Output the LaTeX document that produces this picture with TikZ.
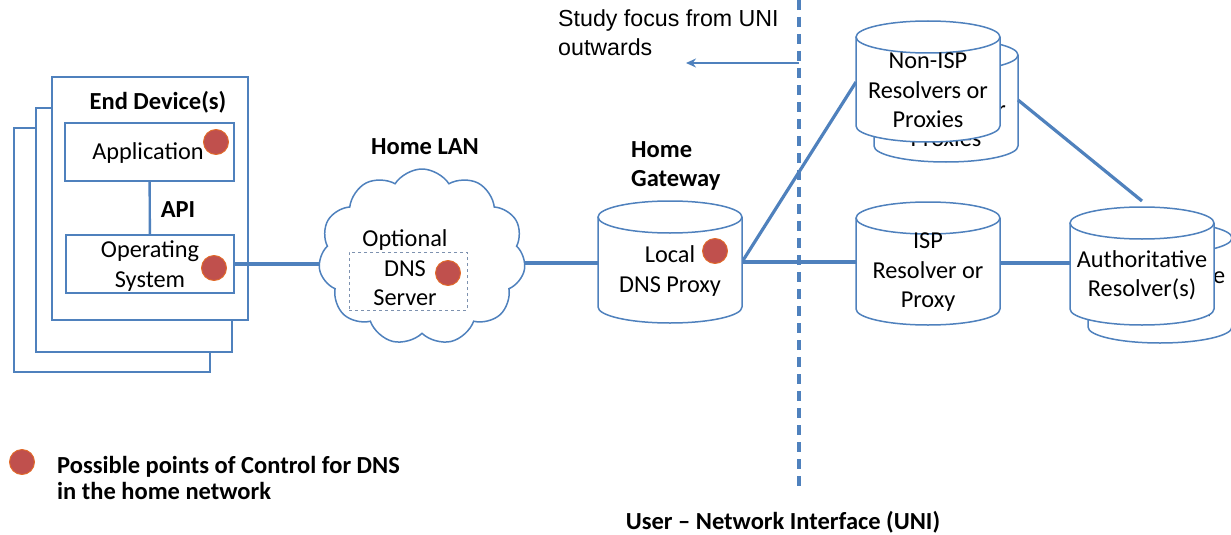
\documentclass[tikz,border=0pt]{standalone}
\usepackage{fontspec}
\setmainfont{Carlito}
\newfontfamily\arialfont{Liberation Sans}
\usetikzlibrary{shapes.symbols,arrows.meta,calc}
\definecolor{lineblue}{RGB}{79,129,189}
\definecolor{dotred}{RGB}{192,80,77}
\definecolor{dotrim}{RGB}{226,106,40}
\definecolor{boxgray}{RGB}{125,145,175}
% cylinder: name, centre x, top y, bottom y, text
\newcommand\dnsdb[5]{%
  \draw[db] (#2-72,#3) -- (#2-72,#4) arc[start angle=180,end angle=360,x radius=72,y radius=16] -- (#2+72,#3);
  \draw[db] (#2,#3) ellipse[x radius=72,y radius=16];
  \node[inner sep=0pt, minimum width=144pt, minimum height={(#3)-(#4)}] (#1) at (#2,{((#3)+(#4))/2}) {};
  \node[txt] (#1-t) at (#2,{((#3)+(#4))/2-9}) {#5};
}
\begin{document}
\begin{tikzpicture}[x=1pt,y=1pt,
    link/.style={draw=lineblue, line width=3.2pt},
    db/.style={draw=lineblue, line width=1.5pt, fill=white},
    box/.style={draw=lineblue, line width=1.8pt, fill=white, inner sep=0pt},
    ctrl/.style={circle, fill=dotred, draw=dotrim, line width=0.9pt, minimum size=25pt, inner sep=0pt},
    txt/.style={font=\fontsize{24.3}{29.5}\selectfont, align=center, inner sep=0pt},
    btxt/.style={font=\bfseries\fontsize{24.5}{29}\selectfont, inner sep=0pt}]
    \useasboundingbox (0,0) rectangle (1231,-535);

    % end devices
    \node[box, minimum width=196pt, minimum height=244pt] (dev3) at (112,-250) {};
    \node[box, minimum width=196pt, minimum height=244pt] (dev2) at (134,-230) {};
    \node[box, minimum width=196pt, minimum height=243pt] (dev1) at (150,-198.5) {};
    \node[btxt] (devlbl) at (158,-102) {End Device(s)};
    \node[box, minimum width=169pt, minimum height=58pt] (app) at (149.5,-152) {};
    \node[txt] (app-t) at (148,-153) {Application};
    \node[box, minimum width=168pt, minimum height=58pt] (os) at (150,-264) {};
    \node[txt] (os-t) at (150,-266) {Operating\\System};
    \draw[lineblue, line width=2.4pt] (app) -- (os);
    \node[btxt] (api) at (178,-210) {API};

    % home lan
    \node[btxt] (lanlbl) at (425,-147) {Home LAN};
    \node[cloud, cloud puffs=11, cloud puff arc=115, cloud ignores aspect, draw=lineblue,
          line width=1.5pt, fill=white, minimum width=207pt, minimum height=176pt] (lan) at (422,-257) {};
    \draw[link] (os.east) -- (os.east -| lan.west);
    \node[draw=boxgray, dashed, line width=0.8pt, minimum width=118pt, minimum height=58pt] (srvbox) at (408,-281) {};
    \node[txt] (srv) at (405,-268) {Optional\\DNS\\Server};

    % UNI line
    \coordinate (unitop) at (799,0);
    \coordinate (unibot) at (799,-490);
    \draw[lineblue, line width=3.2pt, dash pattern=on 10pt off 7pt] (unitop) -- (unibot);
    \coordinate (focus) at (799,-63);
    \coordinate (focusend) at (686,-63);
    \draw[lineblue, line width=2.8pt, -{Stealth[length=10pt,width=9pt]}] (focus) -- (focusend);
    \node[anchor=west, align=left, inner sep=0pt, font=\arialfont\fontsize{23.2}{29}\selectfont] (study) at (558,-33)
        {Study focus from UNI\\outwards};

    % gateway and resolvers
    \node[btxt, align=left, anchor=west] (gwlbl) at (631,-166) {Home\\Gateway};
    \begin{scope}
        \clip (1000,-150) rectangle (1231,-360);
        \dnsdb{authb}{1160}{-238}{-327}{Authoritative\\Resolver(s)}
    \end{scope}
    \dnsdb{nonispb}{946}{-55}{-146}{Non-ISP\\Resolvers or\\Proxies}
    \draw[link] (lan.east |- 0,-263) -- (598,-263);
    \draw[link] (742,-262) -- (856,-262);
    \draw[link] (1000,-263) -- (1070,-263);
    \draw[link] (742,-262) -- (856,-82);
    \draw[link] (1018,-100) -- (1142,-201);
    \dnsdb{nonisp}{928}{-37}{-126}{Non-ISP\\Resolvers or\\Proxies}
    \dnsdb{gw}{670}{-217}{-307}{Local\\DNS Proxy}
    \dnsdb{isp}{928}{-218}{-309}{ISP\\Resolver or\\Proxy}
    \dnsdb{auth}{1142}{-223}{-309}{Authoritative\\Resolver(s)}

    % points of control
    \node[ctrl] (c1) at (216,-142) {};
    \node[ctrl] (c2) at (214,-268) {};
    \node[ctrl] (c3) at (448,-273) {};
    \node[ctrl] (c4) at (715,-251) {};
    \node[ctrl] (c5) at (22,-462) {};
    \node[btxt, anchor=west, align=left, font=\bfseries\fontsize{24.5}{26}\selectfont] (legend) at (57,-478)
        {Possible points of Control for DNS\\in the home network};
    \node[btxt] (uni) at (783,-522) {User -- Network Interface (UNI)};
\end{tikzpicture}
\end{document}
